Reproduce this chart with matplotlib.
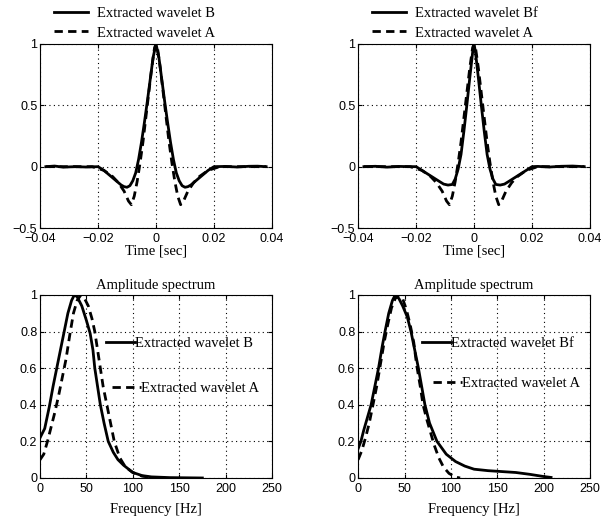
import numpy as np
from matplotlib import pyplot as plt
from matplotlib.ticker import FuncFormatter

# top row: extracted wavelets in time
t_B = [-0.038, -0.035, -0.032, -0.028, -0.024, -0.020, -0.018, -0.016, -0.014, -0.012, -0.011,
       -0.010, -0.009, -0.008, -0.007, -0.006, -0.005, -0.004, -0.003, -0.002, -0.001, 0.0,
       0.001, 0.002, 0.003, 0.004, 0.005, 0.006, 0.007, 0.008, 0.009, 0.010, 0.011, 0.012,
       0.014, 0.016, 0.018, 0.020, 0.024, 0.028, 0.032, 0.035, 0.038]
w_B = [0.0, 0.005, -0.004, 0.0, -0.003, 0.0, -0.03, -0.07, -0.11, -0.15, -0.163,
       -0.168, -0.155, -0.115, -0.05, 0.06, 0.2, 0.36, 0.53, 0.71, 0.89, 1.0,
       0.89, 0.71, 0.53, 0.36, 0.2, 0.06, -0.05, -0.115, -0.155, -0.168, -0.163, -0.15,
       -0.11, -0.07, -0.03, 0.0, 0.002, -0.003, 0.003, 0.004, 0.0]

t_A = [-0.038, -0.030, -0.022, -0.018, -0.015, -0.013, -0.011, -0.0095, -0.0085, -0.0075,
       -0.0065, -0.0055, -0.0045, -0.0035, -0.0025, -0.0015, -0.0005, 0.0,
       0.0005, 0.0015, 0.0025, 0.0035, 0.0045, 0.0055, 0.0065, 0.0075, 0.0085, 0.0095,
       0.011, 0.013, 0.015, 0.018, 0.022, 0.030, 0.038]
w_A = [0.0, 0.0, 0.0, -0.03, -0.08, -0.13, -0.2, -0.28, -0.31, -0.24,
       -0.12, 0.03, 0.2, 0.4, 0.6, 0.8, 0.97, 1.0,
       0.97, 0.8, 0.6, 0.4, 0.2, 0.03, -0.12, -0.24, -0.31, -0.28,
       -0.2, -0.13, -0.08, -0.03, 0.0, 0.0, 0.0]

t_Bf = [-0.038, -0.034, -0.030, -0.026, -0.022, -0.020, -0.018, -0.016, -0.014, -0.012,
        -0.0105, -0.009, -0.0075, -0.0065, -0.0055, -0.0045, -0.0035, -0.0025, -0.0015,
        -0.0005, 0.0, 0.0005, 0.0015, 0.0025, 0.0035, 0.0045, 0.0055, 0.0065, 0.0075,
        0.009, 0.0105, 0.012, 0.014, 0.016, 0.018, 0.020, 0.022, 0.026, 0.030, 0.034, 0.038]
w_Bf = [0.0, 0.003, -0.004, 0.002, 0.0, 0.0, -0.03, -0.06, -0.09, -0.12,
        -0.142, -0.15, -0.145, -0.1, -0.02, 0.1, 0.29, 0.5, 0.72,
        0.93, 1.0, 0.93, 0.72, 0.5, 0.29, 0.1, -0.02, -0.1, -0.145,
        -0.15, -0.142, -0.12, -0.09, -0.06, -0.03, 0.0, 0.002, -0.003, 0.003, 0.005, 0.0]

# bottom row: amplitude spectra
f_B = [0, 5, 10, 14, 18, 22, 26, 30, 34, 37, 40, 45, 50, 54, 57, 59, 62, 65, 69, 73.5,
       79, 84, 90, 100, 110, 120, 140, 175]
s_B = [0.22, 0.27, 0.39, 0.5, 0.6, 0.7, 0.8, 0.9, 0.97, 1.0, 0.99, 0.94, 0.86, 0.79, 0.7,
       0.6, 0.5, 0.4, 0.3, 0.2, 0.14, 0.1, 0.07, 0.03, 0.013, 0.006, 0.002, 0.0]
f_A1 = [0, 4, 8, 12, 16, 20, 24, 28, 32, 36, 40, 44, 48, 52, 56, 59, 62, 65, 68, 72, 76,
        80, 86, 92, 100, 110, 125]
s_A1 = [0.1, 0.13, 0.2, 0.28, 0.36, 0.45, 0.55, 0.65, 0.78, 0.9, 0.97, 1.0, 0.98, 0.94,
        0.87, 0.8, 0.7, 0.6, 0.5, 0.4, 0.3, 0.2, 0.11, 0.06, 0.03, 0.01, 0.0]

f_Bf = [0, 3, 6, 10, 14, 18, 22, 26, 29, 33, 37, 40, 44, 48, 53, 57, 61, 65, 68.5, 72, 77,
        85, 95, 105, 115, 125, 140, 155, 170, 185, 200, 208]
s_Bf = [0.16, 0.2, 0.26, 0.33, 0.4, 0.5, 0.6, 0.72, 0.8, 0.9, 0.97, 1.0, 0.98, 0.94, 0.88,
        0.8, 0.7, 0.6, 0.5, 0.4, 0.3, 0.2, 0.13, 0.09, 0.065, 0.048, 0.04, 0.035, 0.03,
        0.02, 0.008, 0.003]
f_A2 = [0, 4, 8, 12, 16, 20, 24, 28, 32, 36, 40, 44, 48, 52, 56, 60, 63, 67, 70, 74, 78,
        82, 87, 92, 98, 105, 110]
s_A2 = [0.1, 0.15, 0.22, 0.3, 0.4, 0.5, 0.62, 0.74, 0.84, 0.93, 0.98, 1.0, 0.98, 0.92,
        0.84, 0.74, 0.62, 0.5, 0.4, 0.32, 0.25, 0.18, 0.11, 0.06, 0.025, 0.005, 0.0]

serif = "Liberation Serif"
sans = "Liberation Sans"
dash = (0, (3.0, 1.9))
lw = 2.0

fig = plt.figure(figsize=(6.07, 5.2), dpi=100)
ax1 = fig.add_axes([0.066, 0.5615, 0.382, 0.354])
ax2 = fig.add_axes([0.590, 0.5615, 0.382, 0.354])
ax3 = fig.add_axes([0.066, 0.0808, 0.382, 0.352])
ax4 = fig.add_axes([0.590, 0.0808, 0.382, 0.352])


def fmt(v, pos):
    s = "%g" % v
    return s.replace("-", "\u2212")


for ax in [ax1, ax2, ax3, ax4]:
    ax.grid(True, color="black", linestyle=(0, (1, 3)), linewidth=0.8)
    ax.tick_params(direction="in", top=True, right=True, length=3, labelsize=9)
    ax.tick_params(axis="y", pad=2)
    ax.tick_params(axis="x", pad=3.5)
    ax.xaxis.set_major_formatter(FuncFormatter(fmt))
    ax.yaxis.set_major_formatter(FuncFormatter(fmt))
    for lab in ax.get_xticklabels() + ax.get_yticklabels():
        lab.set_fontfamily(sans)
    for sp in ax.spines.values():
        sp.set_linewidth(0.8)

# top panels
for ax, t_s, w_s, name in [(ax1, t_B, w_B, "Extracted wavelet B"),
                           (ax2, t_Bf, w_Bf, "Extracted wavelet Bf")]:
    ax.plot(t_s, w_s, color="black", lw=lw, label=name)
    ax.plot(t_A, w_A, color="black", lw=lw, linestyle=dash, label="Extracted wavelet A")
    ax.set_xlim(-0.04, 0.04)
    ax.set_ylim(-0.5, 1)
    ax.set_xticks([-0.04, -0.02, 0, 0.02, 0.04])
    ax.set_yticks([-0.5, 0, 0.5, 1])
    ax.set_xlabel("Time [sec]", fontfamily=serif, fontsize=10.5, labelpad=0)
    ax.legend(loc="lower left", bbox_to_anchor=(0.043, 1.0), frameon=False,
              borderpad=0, borderaxespad=0.3, handlelength=2.3, handletextpad=0.6,
              labelspacing=0.45, prop={"family": serif, "size": 10.5})

# bottom panels
for ax, f_s, s_s, f_a, s_a, name, pos1, pos2 in [
        (ax3, f_B, s_B, f_A1, s_A1, "Extracted wavelet B", (0.284, 0.736), (0.309, 0.49)),
        (ax4, f_Bf, s_Bf, f_A2, s_A2, "Extracted wavelet Bf", (0.275, 0.736), (0.322, 0.517))]:
    l1, = ax.plot(f_s, s_s, color="black", lw=lw)
    l2, = ax.plot(f_a, s_a, color="black", lw=lw, linestyle=dash)
    ax.set_xlim(0, 250)
    ax.set_ylim(0, 1)
    ax.set_xticks([0, 50, 100, 150, 200, 250])
    ax.set_yticks([0, 0.2, 0.4, 0.6, 0.8, 1])
    ax.set_title("Amplitude spectrum", fontfamily=serif, fontsize=10.5, pad=4)
    ax.set_xlabel("Frequency [Hz]", fontfamily=serif, fontsize=10.5, labelpad=6)
    leg1 = ax.legend([l1], [name], loc="center left", bbox_to_anchor=pos1, frameon=False,
                     borderpad=0, borderaxespad=0, handlelength=2.0, handletextpad=0.0,
                     prop={"family": serif, "size": 10.5})
    ax.add_artist(leg1)
    ax.legend([l2], ["Extracted wavelet A"], loc="center left", bbox_to_anchor=pos2,
              frameon=False, borderpad=0, borderaxespad=0, handlelength=2.0,
              handletextpad=0.0, prop={"family": serif, "size": 10.5})

plt.savefig("out.png", dpi=100)
